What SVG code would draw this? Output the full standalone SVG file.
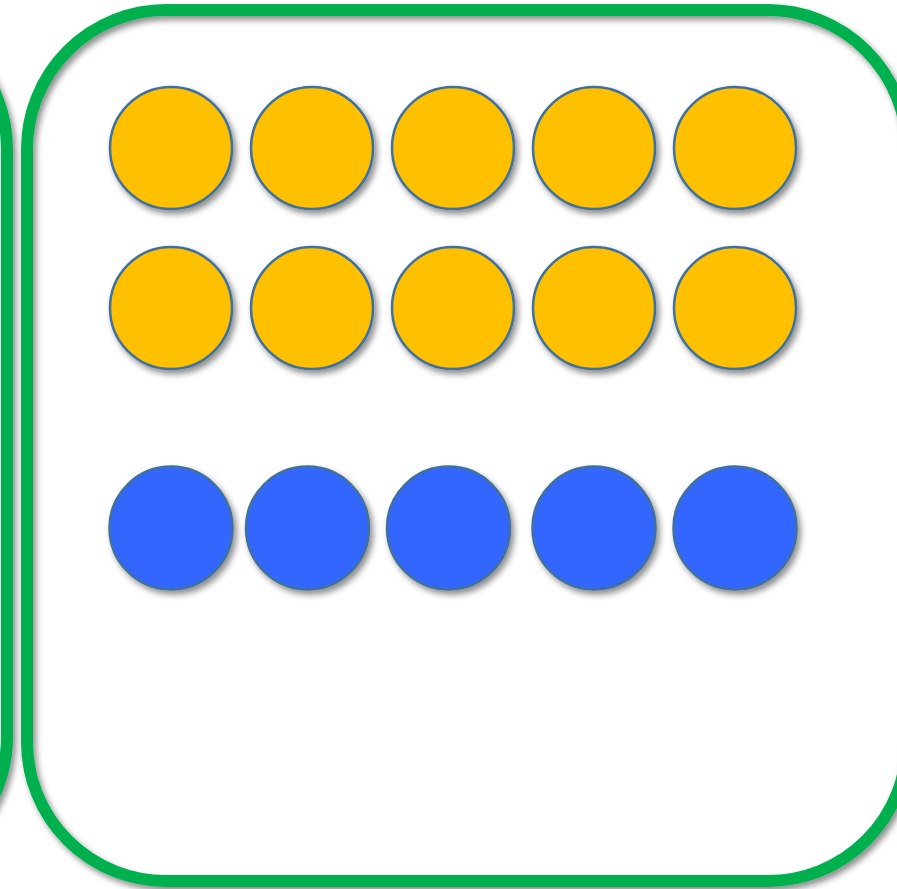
<svg xmlns="http://www.w3.org/2000/svg" width="897" height="889" viewBox="0 0 897 889">
<defs>
<filter id="sh" x="-20%" y="-20%" width="140%" height="140%">
<feDropShadow dx="3" dy="4" stdDeviation="3" flood-color="#000" flood-opacity="0.45"/>
</filter>
</defs>
<style>
.frame{fill:none;stroke:#00B050;stroke-width:12}
.y{fill:#FFC000;stroke:#41719C;stroke-width:2.5}
.b{fill:#3366FF;stroke:#41719C;stroke-width:2.5}
</style>
<rect width="897" height="889" fill="#fff"/>
<g id="left-frame" filter="url(#sh)"><rect class="frame" x="-400" y="10" width="407" height="866" rx="139"/></g>
<g id="main-frame" filter="url(#sh)"><rect class="frame" x="27" y="10" width="880" height="871" rx="139"/></g>
<g id="yellow-row-1" filter="url(#sh)">
<circle class="y" cx="171" cy="148" r="61"/>
<circle class="y" cx="312" cy="148" r="61"/>
<circle class="y" cx="453" cy="148" r="61"/>
<circle class="y" cx="594" cy="148" r="61"/>
<circle class="y" cx="735" cy="148" r="61"/>
</g>
<g id="yellow-row-2" filter="url(#sh)">
<circle class="y" cx="171" cy="308" r="61"/>
<circle class="y" cx="312" cy="308" r="61"/>
<circle class="y" cx="453" cy="308" r="61"/>
<circle class="y" cx="594" cy="308" r="61"/>
<circle class="y" cx="735" cy="308" r="61"/>
</g>
<g id="blue-row" filter="url(#sh)">
<circle class="b" cx="171" cy="528" r="61.5"/>
<circle class="b" cx="307.5" cy="528" r="61.5"/>
<circle class="b" cx="448.5" cy="528" r="61.5"/>
<circle class="b" cx="594" cy="528" r="61.5"/>
<circle class="b" cx="735" cy="528" r="61.5"/>
</g>
<g id="connectors"></g>
</svg>
